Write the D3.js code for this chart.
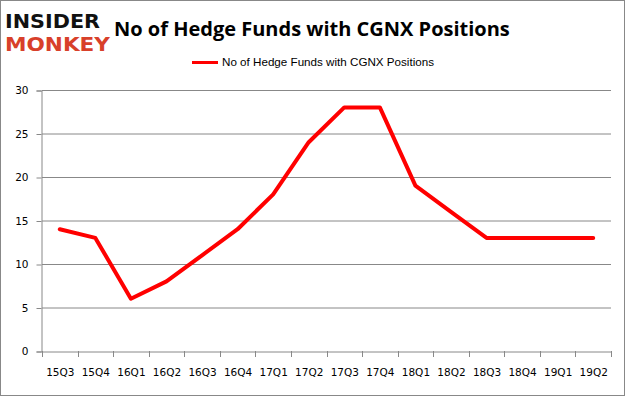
<!DOCTYPE html>
<html><head><meta charset="utf-8">
<script src="https://cdn.jsdelivr.net/npm/d3@7/dist/d3.min.js"></script>
<style>body{margin:0;background:#fff;}svg{display:block;}</style>
</head><body>
<script>
const categories = ["15Q3","15Q4","16Q1","16Q2","16Q3","16Q4","17Q1","17Q2","17Q3","17Q4","18Q1","18Q2","18Q3","18Q4","19Q1","19Q2"];
const values = [14,13,6,8,11,14,18,24,28,28,19,16,13,13,13,13];
const yTicks = [0,5,10,15,20,25,30];
const seriesName = "No of Hedge Funds with CGNX Positions";
const titleText = "No of Hedge Funds with CGNX Positions";

const W=626,H=397;
const svg=d3.select("body").append("svg").attr("width",W).attr("height",H);
svg.append("rect").attr("x",0.5).attr("y",0.5).attr("width",W-2).attr("height",H-2).attr("fill","#fff").attr("stroke","#888");

const x=d3.scaleBand().domain(categories).range([42,611]);
const y=d3.scaleLinear().domain([0,30]).range([351,90]);

// gridlines
svg.append("g").selectAll("line").data(yTicks.filter(d=>d>0)).join("line")
  .attr("x1",42).attr("x2",611).attr("y1",d=>y(d)+0.5).attr("y2",d=>y(d)+0.5)
  .attr("stroke","#888").attr("stroke-width",1);

const axFont="'DejaVu Sans', Verdana, sans-serif";
const yAxis=svg.append("g").attr("transform","translate(41.5,0.5)")
  .call(d3.axisLeft(y).tickValues(yTicks).tickSize(5).tickPadding(8));
yAxis.select(".domain").attr("stroke","#888");
yAxis.selectAll(".tick line").attr("stroke","#888");
yAxis.selectAll("text").attr("font-family",axFont).attr("font-size",10.5).attr("fill","#000");

const xAxis=svg.append("g").attr("transform","translate(0.5,351.5)")
  .call(d3.axisBottom(x).tickSize(0).tickPadding(17));
xAxis.select(".domain").attr("stroke","#888");
xAxis.selectAll("text").attr("font-family",axFont).attr("font-size",10.5).attr("fill","#000");
// tick marks at band boundaries
const bounds=categories.map(c=>x(c)).concat([x.range()[1]]);
svg.append("g").selectAll("line").data(bounds).join("line")
  .attr("x1",d=>Math.round(d)+0.5).attr("x2",d=>Math.round(d)+0.5).attr("y1",351).attr("y2",357)
  .attr("stroke","#888");

const line=d3.line().x((d,i)=>x(categories[i])+x.bandwidth()/2).y(d=>y(d));
svg.append("path").datum(values).attr("d",line).attr("fill","none")
  .attr("stroke","#ff0000").attr("stroke-width",4).attr("stroke-linejoin","round").attr("stroke-linecap","round");

// title
svg.append("text").attr("x",114).attr("y",36).attr("font-family","'Open Sans', 'Liberation Sans', sans-serif")
  .attr("font-weight","bold").attr("font-size",20).attr("fill","#000").text(titleText);

// legend
svg.append("line").attr("x1",192).attr("x2",218).attr("y1",62.5).attr("y2",62.5).attr("stroke","#ff0000").attr("stroke-width",3);
svg.append("text").attr("x",222).attr("y",66).attr("font-family","'Liberation Sans', Arial, sans-serif").attr("font-size",11.5)
  .attr("textLength",212).attr("lengthAdjust","spacingAndGlyphs").attr("fill","#000").text(seriesName);

// logo
svg.append("text").attr("x",5).attr("y",28).attr("font-family","'DejaVu Sans', sans-serif").attr("font-weight","bold")
  .attr("font-size",20).attr("textLength",95).attr("lengthAdjust","spacingAndGlyphs").attr("fill","#111").text("INSIDER");
svg.append("text").attr("x",5).attr("y",51).attr("font-family","'DejaVu Sans', sans-serif").attr("font-weight","bold")
  .attr("font-size",20).attr("textLength",105).attr("lengthAdjust","spacingAndGlyphs").attr("fill","#d8402a").text("MONKEY");
</script>
</body></html>
